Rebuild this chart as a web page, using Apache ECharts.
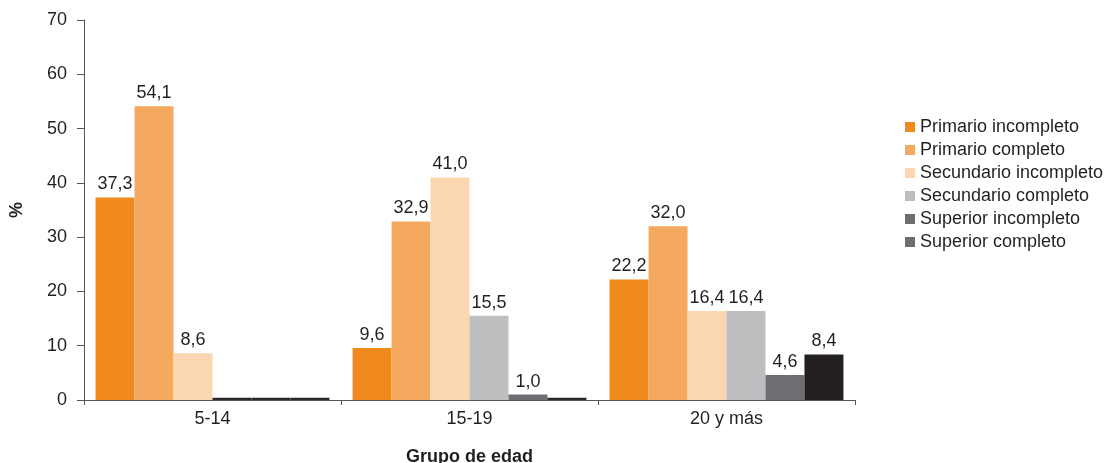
<!DOCTYPE html>
<html>
<head>
<meta charset="utf-8">
<script src="https://cdn.jsdelivr.net/npm/echarts@6/dist/echarts.min.js"></script>
<style>
html,body{margin:0;padding:0;background:#fff;}
#chart{width:1116px;height:463px;}
</style>
</head>
<body>
<div id="chart"></div>
<script>
var categories = ['5-14', '15-19', '20 y más'];
var seriesNames = ['Primario incompleto', 'Primario completo', 'Secundario incompleto', 'Secundario completo', 'Superior incompleto', 'Superior completo'];
var primarioIncompleto = [37.3, 9.6, 22.2];
var primarioCompleto = [54.1, 32.9, 32.0];
var secundarioIncompleto = [8.6, 41.0, 16.4];
var secundarioCompleto = [0.4, 15.5, 16.4];
var superiorIncompleto = [0.4, 1.0, 4.6];
var superiorCompleto = [0.4, 0.4, 8.4];
var yTicks = [0, 10, 20, 30, 40, 50, 60, 70];

var colors = ['#f08a1f', '#f5a95f', '#fad7b0', '#bcbec0', '#6d6e71', '#231f20'];
var legendColors = ['#f08a1f', '#f5a95f', '#fad7b0', '#bcbec0', '#6d6e71', '#6d6e71'];
var allData = [primarioIncompleto, primarioCompleto, secundarioIncompleto, secundarioCompleto, superiorIncompleto, superiorCompleto];
var font = '"Liberation Sans", Arial, Helvetica, sans-serif';
var textColor = '#231f20';

var series = seriesNames.map(function (name, i) {
  return {
    name: name,
    type: 'bar',
    data: allData[i],
    barGap: '0%',
    barCategoryGap: '9%',
    itemStyle: {
      color: function (p) { return p.value < 0.5 ? '#2b2829' : colors[i]; }
    },
    label: {
      show: true,
      position: 'top',
      distance: 4,
      color: textColor,
      fontFamily: font,
      fontSize: 18,
      formatter: function (p) { return p.value < 0.5 ? '' : p.value.toFixed(1).replace('.', ','); }
    }
  };
});

var chart = echarts.init(document.getElementById('chart'));
chart.setOption({
  animation: false,
  color: colors,
  grid: { left: 84, right: 261, top: 20, bottom: 63, containLabel: false, outerBoundsMode: 'none' },
  legend: {
    orient: 'vertical',
    left: 900,
    top: 113,
    itemWidth: 10,
    itemHeight: 10,
    itemGap: 5,
    icon: 'rect',
    textStyle: { fontFamily: font, fontSize: 18, color: textColor, lineHeight: 18 },
    data: seriesNames.map(function (n, i) { return { name: n, itemStyle: { color: legendColors[i] } }; })
  },
  xAxis: {
    type: 'category',
    data: categories,
    name: 'Grupo de edad',
    nameLocation: 'middle',
    nameGap: 48,
    nameTextStyle: { fontFamily: font, fontSize: 18, fontWeight: 'bold', color: textColor },
    axisLine: { lineStyle: { color: '#555' } },
    axisTick: { show: true, length: 5, lineStyle: { color: '#555' } },
    axisLabel: { fontFamily: font, fontSize: 18, color: textColor, margin: 10 }
  },
  yAxis: {
    type: 'value',
    min: yTicks[0],
    max: yTicks[yTicks.length - 1],
    interval: 10,
    name: '%',
    nameLocation: 'middle',
    nameGap: 58,
    nameTextStyle: { fontFamily: font, fontSize: 18, fontWeight: 'bold', color: textColor },
    axisLine: { show: true, lineStyle: { color: '#555' } },
    axisTick: { show: true, length: 7, lineStyle: { color: '#555' } },
    axisLabel: { fontFamily: font, fontSize: 18, color: textColor, margin: 17 },
    splitLine: { show: false }
  },
  series: series
});
</script>
</body>
</html>
